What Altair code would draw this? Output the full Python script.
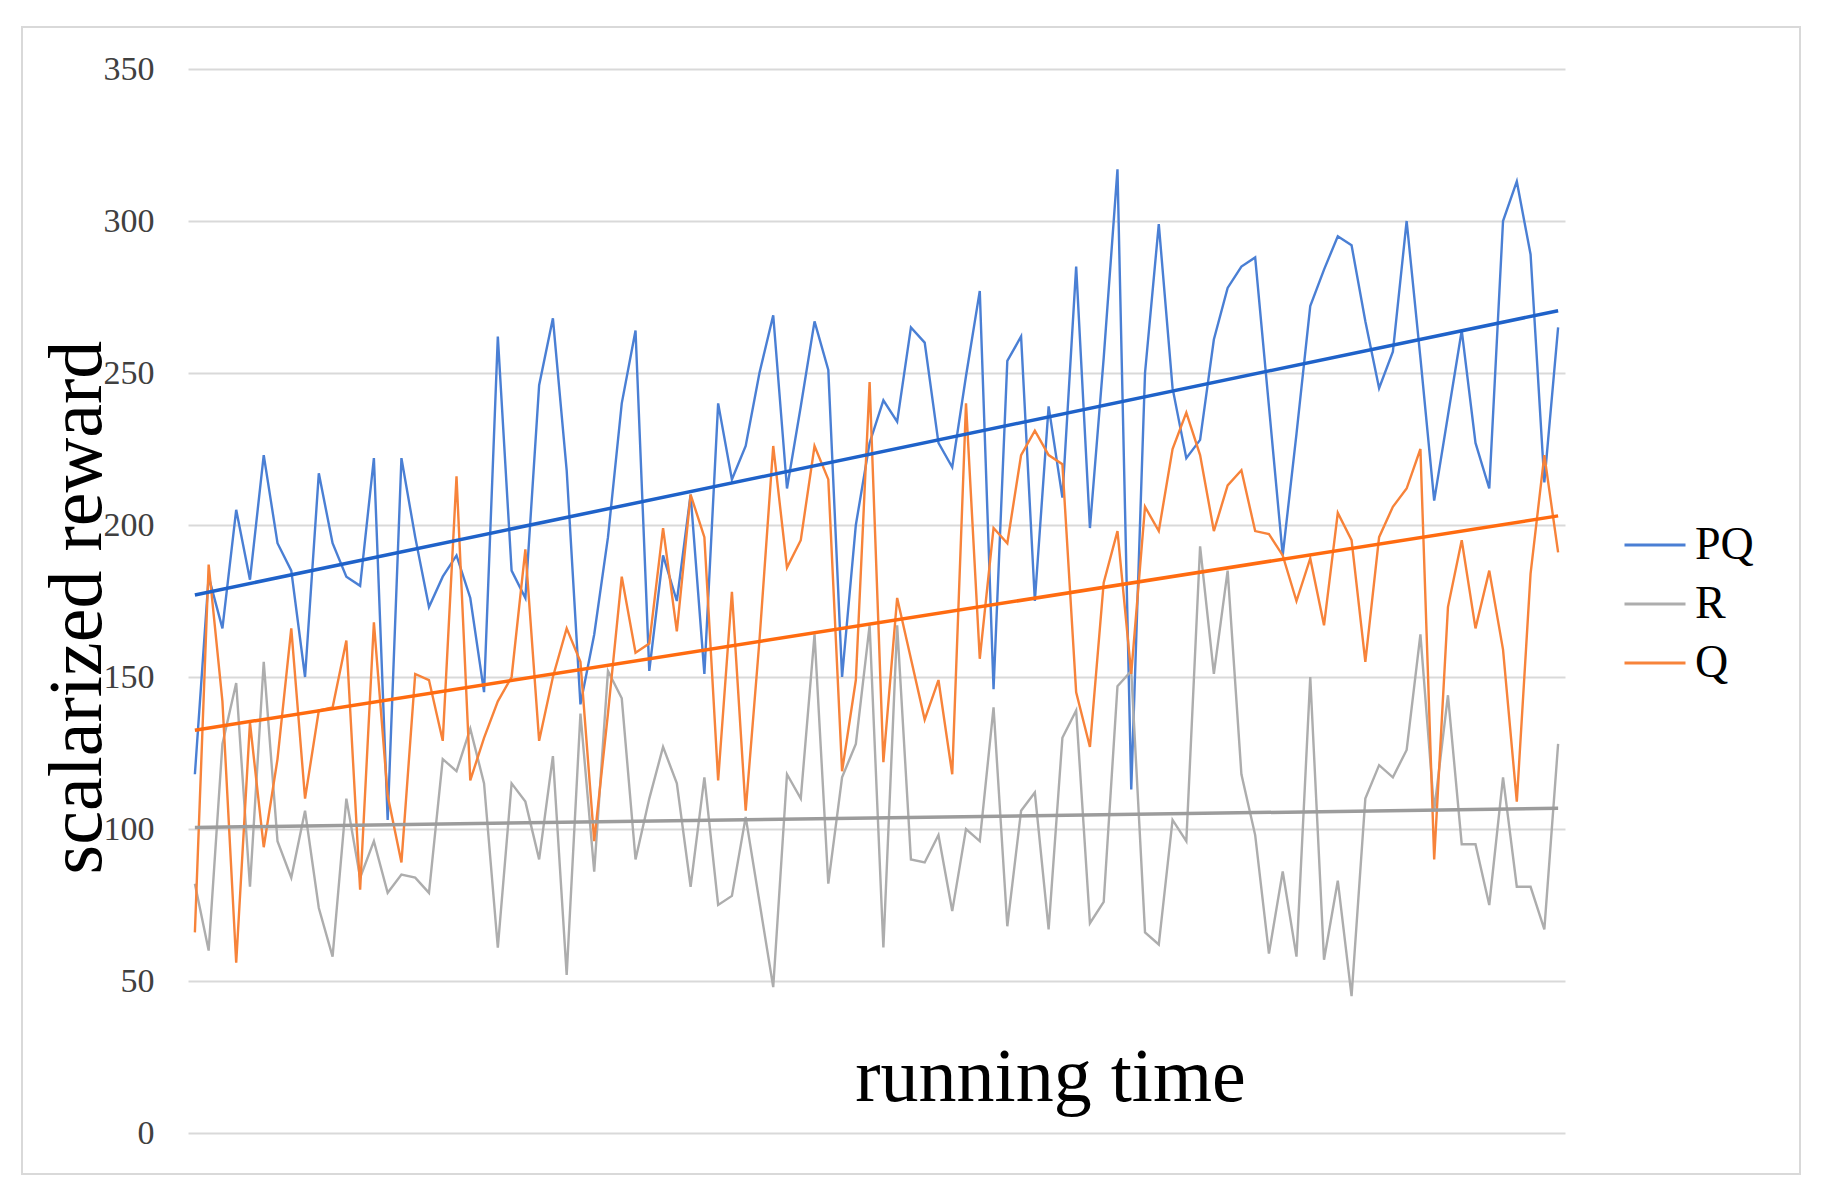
import altair as alt
import pandas as pd

series_names = ["PQ", "R", "Q"]

pq_values = [118,183,166,205,182,223,194,185,150,217,194,183,180,222,103,222,196,173,183,190,
             176,145,262,185,176,246,268,218,141,164,196,240,264,152,190,175,210,151,240,215,
             226,250,269,212,239,267,251,150,200,227,241,234,265,260,227,219,249,277,146,254,
             262,175,239,209,285,199,255,317,113,250,299,245,222,228,261,278,285,288,239,190,
             230,272,284,295,292,267,245,257,300,255,208,236,264,227,212,300,313,289,214,265]

q_values = [66,187,142,56,135,94,123,166,110,139,140,162,80,168,111,89,151,149,129,216,
            116,130,142,150,192,129,150,166,155,96,138,183,158,161,199,165,210,196,116,178,
            106,162,226,186,195,226,215,119,149,247,122,176,156,136,149,118,240,156,199,194,
            223,231,223,220,145,127,181,198,151,206,198,225,237,223,198,213,218,198,197,190,
            175,189,167,204,195,155,196,206,212,225,90,173,195,166,185,159,109,184,223,191]

r_values = [82,60,128,148,81,155,96,84,106,74,58,110,84,96,79,85,84,79,123,119,
            133,115,61,115,109,90,124,52,138,86,152,143,90,110,127,115,81,117,75,78,
            104,76,48,118,110,164,82,117,128,167,61,167,90,89,98,73,100,96,140,68,
            106,112,67,130,139,69,76,147,152,66,62,103,96,193,151,185,118,98,59,86,
            58,150,57,83,45,110,121,117,126,164,106,144,95,95,75,117,81,81,67,128]

# trend line end values (first point, last point)
trend_pq = [177, 270.5]
trend_q = [132.5, 203]
trend_r = [100.5, 106.8]

y_ticks = [0, 50, 100, 150, 200, 250, 300, 350]

line_colors = ["#4A7FD4", "#ADADAD", "#F7833A"]
trend_colors = ["#1F62C9", "#9C9C9C", "#FF6B10"]

rows = []
for name, vals in zip(series_names, [pq_values, r_values, q_values]):
    for i, v in enumerate(vals):
        rows.append({"series": name, "idx": i, "value": v})
df = pd.DataFrame(rows)

n = len(pq_values)
trows = []
for name, tv in zip(series_names, [trend_pq, trend_r, trend_q]):
    trows.append({"series": name, "idx": 0, "value": tv[0]})
    trows.append({"series": name, "idx": n - 1, "value": tv[1]})
tdf = pd.DataFrame(trows)

FONT = "Liberation Serif"

x_enc = alt.X(
    "idx:Q",
    scale=alt.Scale(domain=[-0.5, n - 0.5], nice=False, zero=False),
    axis=alt.Axis(
        title="running time", labels=False, ticks=False, grid=False, domain=False,
        titleFont=FONT, titleFontSize=76, titleFontWeight="normal", titleColor="#000000",
        titleX=862, titleY=-33, titleBaseline="alphabetic", titleAlign="center",
    ),
)
y_enc = alt.Y(
    "value:Q",
    scale=alt.Scale(domain=[0, 350], nice=False),
    axis=alt.Axis(
        title="scalarized reward", values=y_ticks, grid=True, gridColor="#D9D9D9", gridWidth=2,
        domain=False, ticks=False, labelFont=FONT, labelFontSize=34, labelColor="#404040",
        labelPadding=34, titleFont=FONT, titleFontSize=76, titleFontWeight="normal",
        titleColor="#000000", titleX=-88, titleY=538, titleBaseline="alphabetic",
        titleAlign="center", titleAngle=270,
    ),
)

lines = alt.Chart(df).mark_line(strokeWidth=2.4).encode(
    x=x_enc,
    y=y_enc,
    color=alt.Color(
        "series:N",
        scale=alt.Scale(domain=series_names, range=line_colors),
        sort=series_names,
        legend=alt.Legend(
            title=None, orient="none", legendX=1435, legendY=444,
            symbolType="stroke", symbolSize=3721, symbolStrokeWidth=3,
            labelFont=FONT, labelFontSize=46, labelColor="#000000", labelOffset=8,
            rowPadding=4,
        ),
    ),
    detail="series:N",
)

trends = alt.Chart(tdf).mark_line(strokeWidth=3.5).encode(
    x="idx:Q",
    y="value:Q",
    color=alt.Color("series:N", scale=alt.Scale(domain=series_names, range=trend_colors), legend=None),
    detail="series:N",
)

frame = alt.Chart(alt.Data(values=[{"a": 1}])).mark_rect(
    fill=None, stroke="#D9D9D9", strokeWidth=2
).encode(
    x=alt.value(-166), x2=alt.value(1612), y=alt.value(-42), y2=alt.value(1105)
)

chart = alt.layer(frame, lines, trends).resolve_scale(color="independent").properties(
    width=1377,
    height=1064,
    autosize=alt.AutoSizeParams(type="none"),
    padding={"left": 180, "top": 61, "right": 249, "bottom": 56},
).configure(background="#FFFFFF").configure_view(stroke=None, strokeWidth=0)

chart.save("out.html", embed_options={"renderer": "svg", "actions": False})
